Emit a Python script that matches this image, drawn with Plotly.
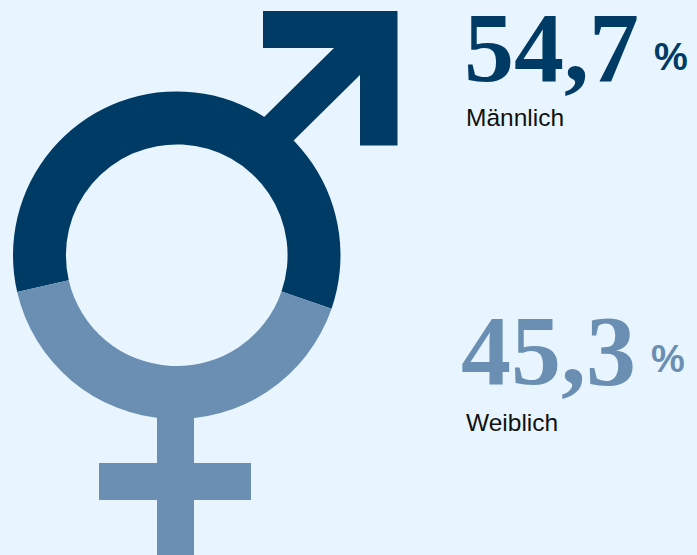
import plotly.graph_objects as go

W, H = 697, 555
BG = "#e8f5ff"
DARK = "#003b66"
LIGHT = "#6b8fb3"

# Ring split as drawn in the picture (the drawn arc is not the same as the printed figures)
ring_labels = ["Männlich", "Weiblich"]
ring_shares = [58.9, 41.1]
ring_colors = [DARK, LIGHT]

# Printed figures
value_texts = ["54,7", "45,3"]
category_labels = ["Männlich", "Weiblich"]

# Symbol outlines, on a canvas axis measured in picture units
arrow_x = [263, 397.5, 397.5, 360, 360, 287, 258, 334, 263, 263]
arrow_y = [11, 11, 145.5, 145.5, 75, 147, 123, 48, 48, 11]
cross_x = [157, 194, 194, 251, 251, 194, 194, 157, 157, 99, 99, 157, 157]
cross_y = [410, 410, 463, 463, 500, 500, 555, 555, 500, 500, 463, 463, 410]

fig = go.Figure()
fig.add_trace(go.Scatter(x=arrow_x, y=arrow_y, mode="lines", fill="toself",
                         fillcolor=DARK, line=dict(width=0), hoverinfo="skip", showlegend=False))
fig.add_trace(go.Scatter(x=cross_x, y=cross_y, mode="lines", fill="toself",
                         fillcolor=LIGHT, line=dict(width=0), hoverinfo="skip", showlegend=False))
fig.add_trace(go.Pie(labels=ring_labels, values=ring_shares, hole=111 / 164, sort=False,
                     direction="clockwise", rotation=257,
                     marker=dict(colors=ring_colors, line=dict(width=0)),
                     textinfo="none", hoverinfo="label", showlegend=False,
                     domain=dict(x=[13 / W, 340.5 / W], y=[1 - 419 / H, 1 - 91.5 / H])))


def note(x, y, text, size, color, family, anchor="left"):
    fig.add_annotation(x=x, y=y, text=text, xref="x", yref="y", showarrow=False,
                       xanchor=anchor, yanchor="middle", xshift=0,
                       font=dict(size=size, color=color, family=family))


SERIF = "Liberation Serif"
SANS = "Liberation Sans"
note(462, 47, f"<b>{value_texts[0]}</b>", 100, DARK, SERIF)
note(652, 57, "<b>%</b>", 38, DARK, SANS)
note(463.5, 117, category_labels[0], 24.5, "#111111", SANS)
note(459, 350, f"<b>{value_texts[1]}</b>", 100, LIGHT, SERIF)
note(649, 359, "<b>%</b>", 38, LIGHT, SANS)
note(463.5, 422, category_labels[1], 24.5, "#111111", SANS)

fig.update_layout(
    width=W, height=H, margin=dict(l=0, r=0, t=0, b=0),
    paper_bgcolor=BG, plot_bgcolor=BG, showlegend=False,
    xaxis=dict(range=[0, W], visible=False, fixedrange=True),
    yaxis=dict(range=[H, 0], visible=False, fixedrange=True),
)
fig.write_html("out.html", config={"displayModeBar": False},
               post_script="document.body.style.margin='0';"
                           "document.documentElement.style.overflow='hidden';"
                           f"document.documentElement.style.background='{BG}';")
